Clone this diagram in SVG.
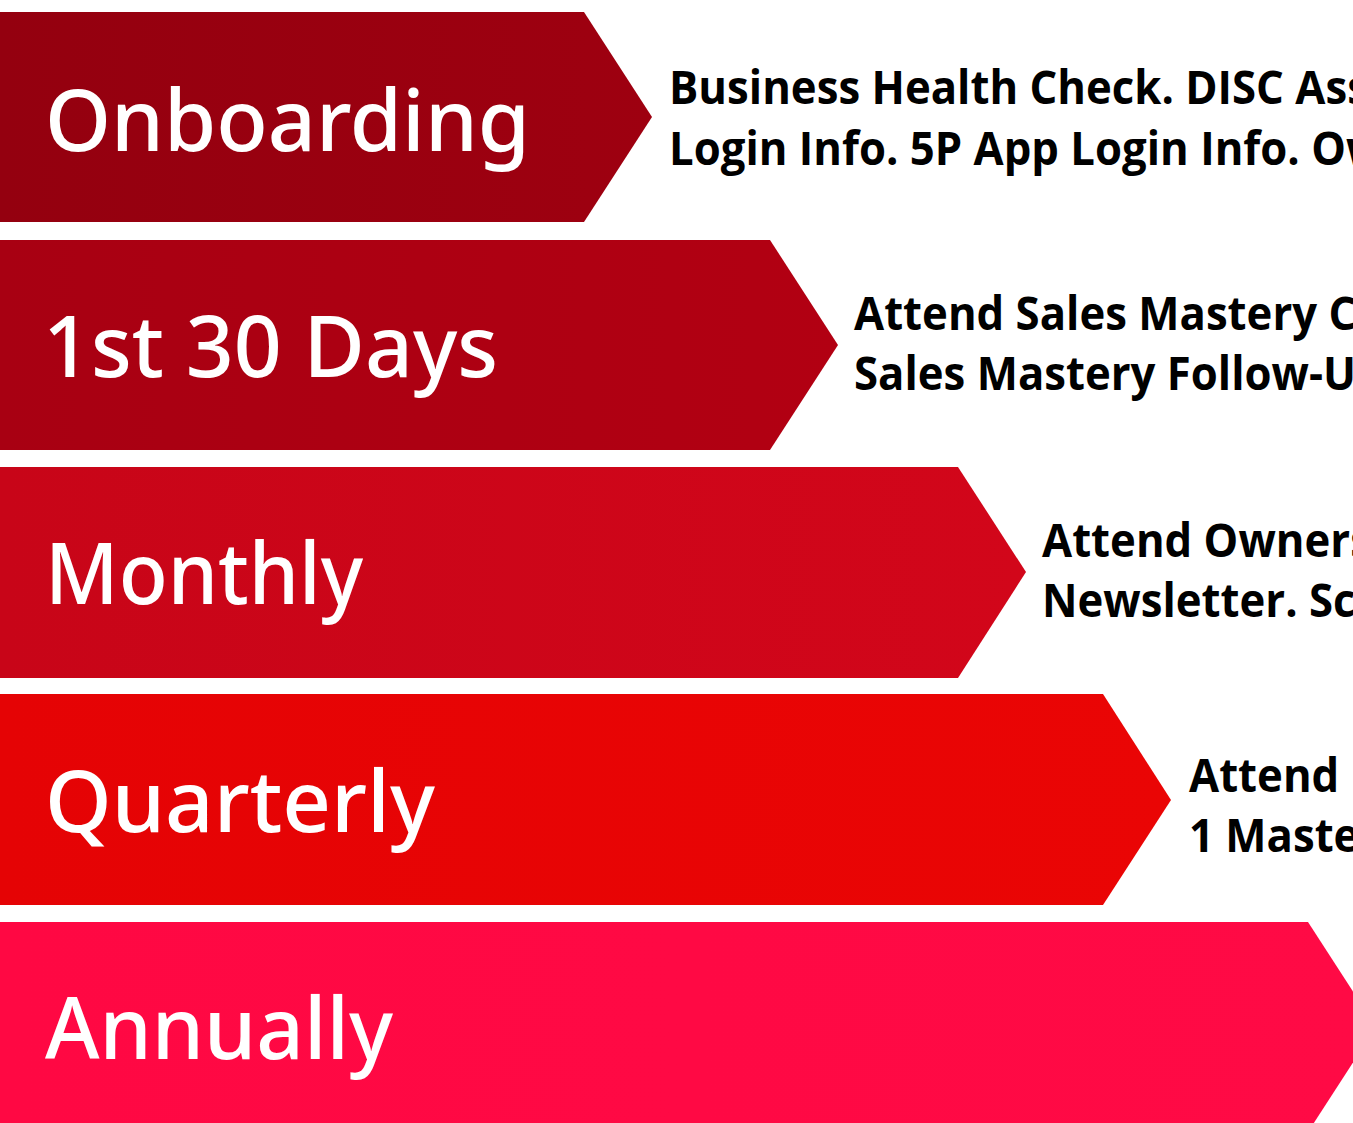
<svg xmlns="http://www.w3.org/2000/svg" width="1353" height="1123" viewBox="0 0 1353 1123">
  <style>
    .lbl { font-family: "Noto Sans", "Open Sans", sans-serif; font-weight: 500; font-size: 86px; fill: #ffffff; }
    .desc { font-family: "Open Sans", "Noto Sans", sans-serif; font-weight: 700; font-size: 46px; fill: #000000; }
  </style>
  <defs>
    <linearGradient id="g1" x1="0" y1="0" x2="1" y2="0"><stop offset="0" stop-color="#94000F"/><stop offset="1" stop-color="#9E0010"/></linearGradient>
    <linearGradient id="g2" x1="0" y1="0" x2="1" y2="0"><stop offset="0" stop-color="#A80012"/><stop offset="1" stop-color="#B20012"/></linearGradient>
    <linearGradient id="g3" x1="0" y1="0" x2="1" y2="0"><stop offset="0" stop-color="#C80518"/><stop offset="1" stop-color="#D2061A"/></linearGradient>
    <linearGradient id="g4" x1="0" y1="0" x2="1" y2="0"><stop offset="0" stop-color="#E50305"/><stop offset="1" stop-color="#EA0505"/></linearGradient>
    <linearGradient id="g5" x1="0" y1="0" x2="1" y2="0"><stop offset="0" stop-color="#FF0843"/><stop offset="1" stop-color="#FF0A45"/></linearGradient>
  </defs>
  <rect width="1353" height="1123" fill="#ffffff"/>
  <g id="onboarding">
    <polygon points="0,12 584,12 652,117 584,222 0,222" fill="url(#g1)"/>
    <text class="lbl" x="45" y="151" textLength="485" lengthAdjust="spacingAndGlyphs">Onboarding</text>
    <text class="desc" transform="translate(669,104) scale(0.95,1)">Business Health Check. DISC Ass</text>
    <text class="desc" transform="translate(669,165) scale(0.95,1)">Login Info. 5P App Login Info. Ow</text>
  </g>
  <g id="first-30-days">
    <polygon points="0,240 770,240 838,345 770,450 0,450" fill="url(#g2)"/>
    <text class="lbl" x="43" y="377" textLength="455" lengthAdjust="spacingAndGlyphs">1st 30 Days</text>
    <text class="desc" transform="translate(854,330) scale(0.95,1)">Attend Sales Mastery C</text>
    <text class="desc" transform="translate(854,390) scale(0.95,1)">Sales Mastery Follow-U</text>
  </g>
  <g id="monthly">
    <polygon points="0,467 958,467 1026,572 958,678 0,678" fill="url(#g3)"/>
    <text class="lbl" x="45" y="604" textLength="318" lengthAdjust="spacingAndGlyphs">Monthly</text>
    <text class="desc" transform="translate(1042,557) scale(0.95,1)">Attend Owners</text>
    <text class="desc" transform="translate(1042,617) scale(0.95,1)">Newsletter. Sc</text>
  </g>
  <g id="quarterly">
    <polygon points="0,694 1103,694 1171,800 1103,905 0,905" fill="url(#g4)"/>
    <text class="lbl" x="45" y="832" textLength="390" lengthAdjust="spacingAndGlyphs">Quarterly</text>
    <text class="desc" transform="translate(1189,792) scale(0.95,1)">Attend</text>
    <text class="desc" transform="translate(1189,852) scale(0.95,1)">1 Maste</text>
  </g>
  <g id="annually">
    <polygon points="0,922 1308,922 1376,1027 1308,1132 0,1132" fill="url(#g5)"/>
    <text class="lbl" x="45" y="1059" textLength="348" lengthAdjust="spacingAndGlyphs">Annually</text>
  </g>
</svg>
